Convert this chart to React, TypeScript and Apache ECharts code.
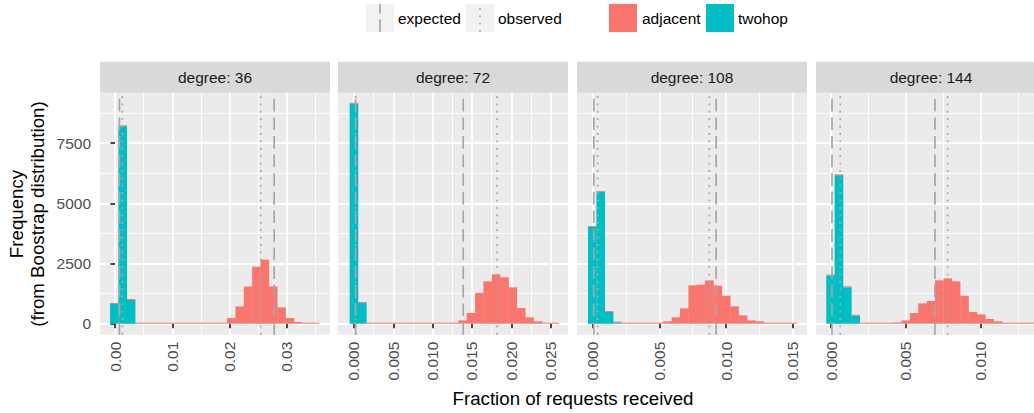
import React, { useEffect, useRef } from "react";
import * as echarts from "echarts";

// ---------- data ----------
const degrees = ["36", "72", "108", "144"];
const binStart = [-0.00087, -0.00055, -0.000345, -0.000335];
const binWidth = [0.001459, 0.001063, 0.000627, 0.00056];
const xMin = [-0.00262, -0.00203, -0.00117, -0.00102];
const xMax = [0.03752, 0.02721, 0.01607, 0.01437];
const xMajorTicks = [
  [0, 0.01, 0.02, 0.03],
  [0, 0.005, 0.01, 0.015, 0.02, 0.025],
  [0, 0.005, 0.01, 0.015],
  [0, 0.005, 0.01],
];
const xMinorTicks = [
  [0.005, 0.015, 0.025, 0.035],
  [0.0025, 0.0075, 0.0125, 0.0175, 0.0225],
  [0.0025, 0.0075, 0.0125],
  [0.0025, 0.0075, 0.0125],
];
const xDecimals = [2, 3, 3, 3];
const yMajorTicks = [0, 2500, 5000, 7500];
const yMinorTicks = [1250, 3750, 6250, 8750];
const yMin = -457;
const yMax = 9593;

const twohop36 = [815, 8200, 985, 0, 0, 0, 0, 0, 0, 0, 0, 0, 0, 0, 0, 0, 0, 0, 0, 0, 0, 0, 0, 0, 0];
const adjacent36 = [0, 0, 0, 0, 0, 0, 0, 0, 0, 0, 0, 0, 0, 0, 235, 715, 1545, 2370, 2660, 1545, 675, 235, 70, 15, 5];
const twohop72 = [9134, 858, 0, 0, 0, 0, 0, 0, 0, 0, 0, 0, 0, 0, 0, 0, 0, 0, 0, 0, 0, 0, 0, 0, 0];
const adjacent72 = [0, 0, 0, 0, 0, 0, 0, 0, 0, 0, 0, 0, 0, 138, 443, 1273, 1758, 2048, 1924, 1509, 650, 263, 97, 15, 5];
const twohop108 = [4013, 5465, 484, 45, 0, 0, 0, 0, 0, 0, 0, 0, 0, 0, 0, 0, 0, 0, 0, 0, 0, 0, 0, 0, 0];
const adjacent108 = [0, 0, 0, 10, 0, 0, 0, 0, 0, 97, 263, 637, 1591, 1619, 1799, 1577, 1162, 719, 345, 138, 97, 15, 5, 5, 5];
const twohop144 = [2000, 6160, 1510, 330, 0, 0, 0, 0, 0, 0, 0, 0, 0, 0, 0, 0, 0, 0, 0, 0, 0, 0, 0, 0, 0];
const adjacent144 = [0, 0, 0, 0, 0, 0, 0, 0, 55, 138, 443, 844, 941, 1799, 1882, 1758, 1162, 484, 388, 194, 97, 10, 5, 5, 5];

const twohopCounts = [twohop36, twohop72, twohop108, twohop144];
const adjacentCounts = [adjacent36, adjacent72, adjacent108, adjacent144];

const expectedTwohop = [0.000772, 0.000193, 0.0000857, 0.0000482];
const expectedAdjacent = [0.02778, 0.01389, 0.00926, 0.00694];
const observedTwohop = [0.00128, 0.00022, 0.000375, 0.0006];
const observedAdjacent = [0.02542, 0.0182, 0.00875, 0.00779];

// ---------- styling ----------
const FONT = "Liberation Sans, Arial, Helvetica, sans-serif";
const RED = "#F8766D";
const TEAL = "#00BFC4";
const VLINE = "#A6A6A6";
const DASH = [12.7, 5.9];
const DOT = [1.85, 5.55];
const LEFTS = [100, 338, 577, 816];
const PW = 230;
const TOP = 92.7;
const PH = 242;

function rectRenderer(color: string, minH: number) {
  return (params: any, api: any) => {
    const x0 = api.value(0);
    const x1 = api.value(1);
    const y0 = api.value(2);
    const y1 = api.value(3);
    const p0 = api.coord([x0, y0]);
    const p1 = api.coord([x1, y1]);
    let h = p0[1] - p1[1];
    if (h < minH) h = minH;
    return {
      type: "rect",
      shape: { x: p0[0], y: p0[1] - h, width: p1[0] - p0[0] + 0.3, height: h },
      style: { fill: color },
    };
  };
}

function buildOption() {
  const grid: any[] = [];
  const xAxis: any[] = [];
  const yAxis: any[] = [];
  const series: any[] = [];
  const graphic: any[] = [];

  for (let p = 0; p < 4; p++) {
    grid.push({
      left: LEFTS[p],
      top: TOP,
      width: PW,
      height: PH,
      show: true,
      backgroundColor: "#EBEBEB",
      borderWidth: 0,
    });
    // minor x axis (index 2p)
    xAxis.push({
      type: "value",
      gridIndex: p,
      min: xMin[p],
      max: xMax[p],
      position: "bottom",
      axisLine: { show: false },
      axisTick: { show: false, customValues: xMinorTicks[p] },
      axisLabel: { show: false, customValues: xMinorTicks[p] },
      splitLine: { show: true, lineStyle: { color: "#FFFFFF", width: 0.9 } },
    });
    // major x axis (index 2p+1)
    const dec = xDecimals[p];
    xAxis.push({
      type: "value",
      gridIndex: p,
      min: xMin[p],
      max: xMax[p],
      position: "bottom",
      axisLine: { show: false },
      axisTick: {
        show: true,
        length: 4.6,
        customValues: xMajorTicks[p],
        lineStyle: { color: "#333333", width: 1.8 },
      },
      axisLabel: {
        show: true,
        customValues: xMajorTicks[p],
        rotate: 90,
        margin: 7,
        color: "#4D4D4D",
        fontSize: 15.5,
        fontFamily: FONT,
        formatter: (v: number) => Number(v).toFixed(dec),
      },
      splitLine: { show: true, lineStyle: { color: "#FFFFFF", width: 1.8 } },
    });
    yAxis.push({
      type: "value",
      gridIndex: p,
      min: yMin,
      max: yMax,
      position: "left",
      axisLine: { show: false },
      axisTick: { show: false, customValues: yMinorTicks },
      axisLabel: { show: false, customValues: yMinorTicks },
      splitLine: { show: true, lineStyle: { color: "#FFFFFF", width: 0.9 } },
    });
    yAxis.push({
      type: "value",
      gridIndex: p,
      min: yMin,
      max: yMax,
      position: "left",
      axisLine: { show: false },
      axisTick: {
        show: p === 0,
        length: 4.6,
        customValues: yMajorTicks,
        lineStyle: { color: "#333333", width: 1.8 },
      },
      axisLabel: {
        show: p === 0,
        customValues: yMajorTicks,
        margin: 9,
        color: "#4D4D4D",
        fontSize: 15.5,
        fontFamily: FONT,
        formatter: (v: number) => String(Math.round(Number(v))),
      },
      splitLine: { show: true, lineStyle: { color: "#FFFFFF", width: 1.8 } },
    });

    const adjData: number[][] = [];
    const twoData: number[][] = [];
    const tw = twohopCounts[p];
    const ad = adjacentCounts[p];
    for (let i = 0; i < tw.length; i++) {
      const x0 = binStart[p] + i * binWidth[p];
      const x1 = x0 + binWidth[p];
      adjData.push([x0, x1, tw[i], tw[i] + ad[i]]);
      if (tw[i] > 0) twoData.push([x0, x1, 0, tw[i]]);
    }
    const xi = 2 * p + 1;
    const yi = 2 * p + 1;
    series.push({
      type: "custom",
      name: "adjacent",
      xAxisIndex: xi,
      yAxisIndex: yi,
      renderItem: rectRenderer(RED, 1),
      encode: { x: [0, 1], y: [2, 3] },
      data: adjData,
      silent: true,
      z: 2,
    });
    series.push({
      type: "custom",
      name: "twohop",
      xAxisIndex: xi,
      yAxisIndex: yi,
      renderItem: rectRenderer(TEAL, 0),
      encode: { x: [0, 1], y: [2, 3] },
      data: twoData,
      silent: true,
      z: 2,
    });
    const vlines: [number, number[]][] = [
      [expectedTwohop[p], DASH],
      [expectedAdjacent[p], DASH],
      [observedTwohop[p], DOT],
      [observedAdjacent[p], DOT],
    ];
    vlines.forEach(([xv, pat]) => {
      series.push({
        type: "line",
        xAxisIndex: xi,
        yAxisIndex: yi,
        data: [
          [xv, yMin],
          [xv, yMax],
        ],
        symbol: "none",
        showSymbol: false,
        silent: true,
        z: 3,
        lineStyle: { color: VLINE, width: 1.7, type: pat, cap: "butt" },
      });
    });

    // strip
    graphic.push({
      type: "rect",
      shape: { x: LEFTS[p], y: 61.7, width: PW, height: 31 },
      style: { fill: "#D9D9D9" },
      silent: true,
    });
    graphic.push({
      type: "text",
      x: LEFTS[p] + PW / 2,
      y: 77.5,
      style: {
        text: "degree: " + degrees[p],
        fill: "#1A1A1A",
        fontSize: 15.5,
        fontFamily: FONT,
        align: "center",
        verticalAlign: "middle",
      },
      silent: true,
    });
  }

  // axis titles
  graphic.push({
    type: "text",
    x: 573,
    y: 398,
    style: {
      text: "Fraction of requests received",
      fill: "#000000",
      fontSize: 18.7,
      fontFamily: FONT,
      align: "center",
      verticalAlign: "middle",
    },
    silent: true,
  });
  graphic.push({
    type: "text",
    x: 27,
    y: 214,
    rotation: Math.PI / 2,
    style: {
      text: "Frequency\n(from Boostrap distribution)",
      fill: "#000000",
      fontSize: 18.7,
      lineHeight: 21,
      fontFamily: FONT,
      align: "center",
      verticalAlign: "middle",
    },
    silent: true,
  });

  // legend
  const keyY = 4;
  const keyS = 28;
  const legendText = (t: string, x: number) => ({
    type: "text",
    x,
    y: 18.3,
    style: {
      text: t,
      fill: "#000000",
      fontSize: 15.5,
      fontFamily: FONT,
      align: "left",
      verticalAlign: "middle",
    },
    silent: true,
  });
  graphic.push({ type: "rect", shape: { x: 366, y: keyY, width: keyS, height: keyS }, style: { fill: "#F2F2F2" }, silent: true });
  graphic.push({
    type: "line",
    shape: { x1: 380, y1: keyY + keyS, x2: 380, y2: keyY },
    style: { stroke: VLINE, lineWidth: 1.7, lineDash: DASH },
    silent: true,
  });
  graphic.push(legendText("expected", 398));
  graphic.push({ type: "rect", shape: { x: 466, y: keyY, width: keyS, height: keyS }, style: { fill: "#F2F2F2" }, silent: true });
  graphic.push({
    type: "line",
    shape: { x1: 480, y1: keyY + keyS, x2: 480, y2: keyY },
    style: { stroke: VLINE, lineWidth: 1.7, lineDash: DOT },
    silent: true,
  });
  graphic.push(legendText("observed", 498));
  graphic.push({ type: "rect", shape: { x: 609, y: keyY, width: keyS, height: keyS }, style: { fill: RED }, silent: true });
  graphic.push(legendText("adjacent", 642));
  graphic.push({ type: "rect", shape: { x: 706, y: keyY, width: keyS, height: keyS }, style: { fill: TEAL }, silent: true });
  graphic.push(legendText("twohop", 738));

  return {
    animation: false,
    backgroundColor: "#FFFFFF",
    textStyle: { fontFamily: FONT },
    grid,
    xAxis,
    yAxis,
    series,
    graphic,
  };
}

export default function App() {
  const ref = useRef<HTMLDivElement>(null);
  useEffect(() => {
    if (!ref.current) return;
    const chart = echarts.init(ref.current, undefined, { renderer: "svg" });
    chart.setOption(buildOption() as any);
    return () => {
      chart.dispose();
    };
  }, []);
  return (
    <div
      style={{
        position: "fixed",
        left: 0,
        top: 0,
        width: 1034,
        height: 413,
        overflow: "hidden",
        background: "#FFFFFF",
      }}
    >
      <div ref={ref} style={{ width: 1050, height: 413 }} />
    </div>
  );
}
